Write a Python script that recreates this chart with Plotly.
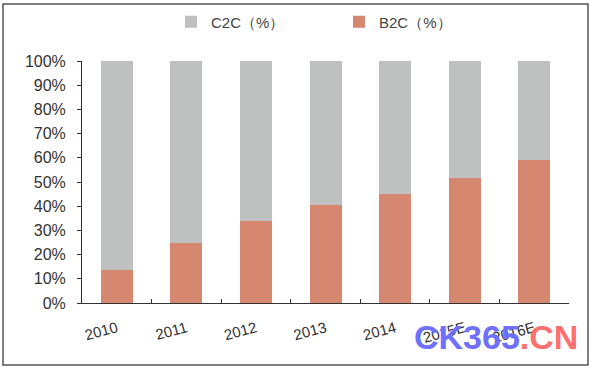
import plotly.graph_objects as go

years = ["2010", "2011", "2012", "2013", "2014", "2015E", "2016E"]
b2c = [13.5, 25.0, 34.0, 40.5, 45.0, 51.7, 59.0]
c2c = [100 - v for v in b2c]

W, H = 593, 373
L, R, T, B = 82, 24, 61, 70
pw, ph = W - L - R, H - T - B

def px(x):
    return (x - L) / pw

def py(y):
    return (H - B - y) / ph

fig = go.Figure()
fig.add_trace(go.Bar(x=years, y=b2c, name="B2C（%）", marker=dict(color="#D6876F", line=dict(width=0)), width=0.46))
fig.add_trace(go.Bar(x=years, y=c2c, name="C2C（%）", marker=dict(color="#BFC0C0", line=dict(width=0)), width=0.46))

fig.update_layout(
    width=W, height=H,
    margin=dict(l=L, r=R, t=T, b=B, autoexpand=False),
    barmode="stack",
    paper_bgcolor="white", plot_bgcolor="white",
    font=dict(family="Liberation Sans, Arial, sans-serif", size=15, color="#333333"),
    showlegend=True,
    legend=dict(orientation="h", traceorder="reversed", x=px(171), y=py(22), xanchor="left", yanchor="middle",
                font=dict(size=15, color="#444444"), itemwidth=30, entrywidth=123, entrywidthmode="pixels",
                bgcolor="rgba(0,0,0,0)"),
    xaxis=dict(type="category", range=[-0.5, 6.5], showline=True, linecolor="#333333", linewidth=1,
               ticks="inside", ticklen=4, tickcolor="#333333", tickson="boundaries", tickangle=-15,
               ticklabelstandoff=10,
               showgrid=False, tickfont=dict(size=15, color="#333333")),
    yaxis=dict(range=[0, 100], dtick=10, ticksuffix="%", showline=True, linecolor="#333333", linewidth=1,
               ticks="outside", ticklen=4, tickcolor="#333333", showgrid=False, zeroline=False,
               ticklabelstandoff=8,
               tickfont=dict(size=16, color="#333333")),
    shapes=[dict(type="rect", xref="paper", yref="paper", x0=px(3), x1=px(588), y0=py(365), y1=py(4),
                 line=dict(color="#555555", width=1.5), fillcolor="rgba(0,0,0,0)", layer="below")],
    annotations=[dict(xref="paper", yref="paper", x=px(496), y=py(337), xanchor="center", yanchor="middle",
                      showarrow=False,
                      text="<b><span style='color:#7070FF'>CK365</span><span style='color:#FF7070'>.CN</span></b>",
                      font=dict(family="Liberation Sans, Arial, sans-serif", size=34))],
)

fig.write_html("out.html", config={"displayModeBar": False},
               post_script="document.body.style.margin='0';")
